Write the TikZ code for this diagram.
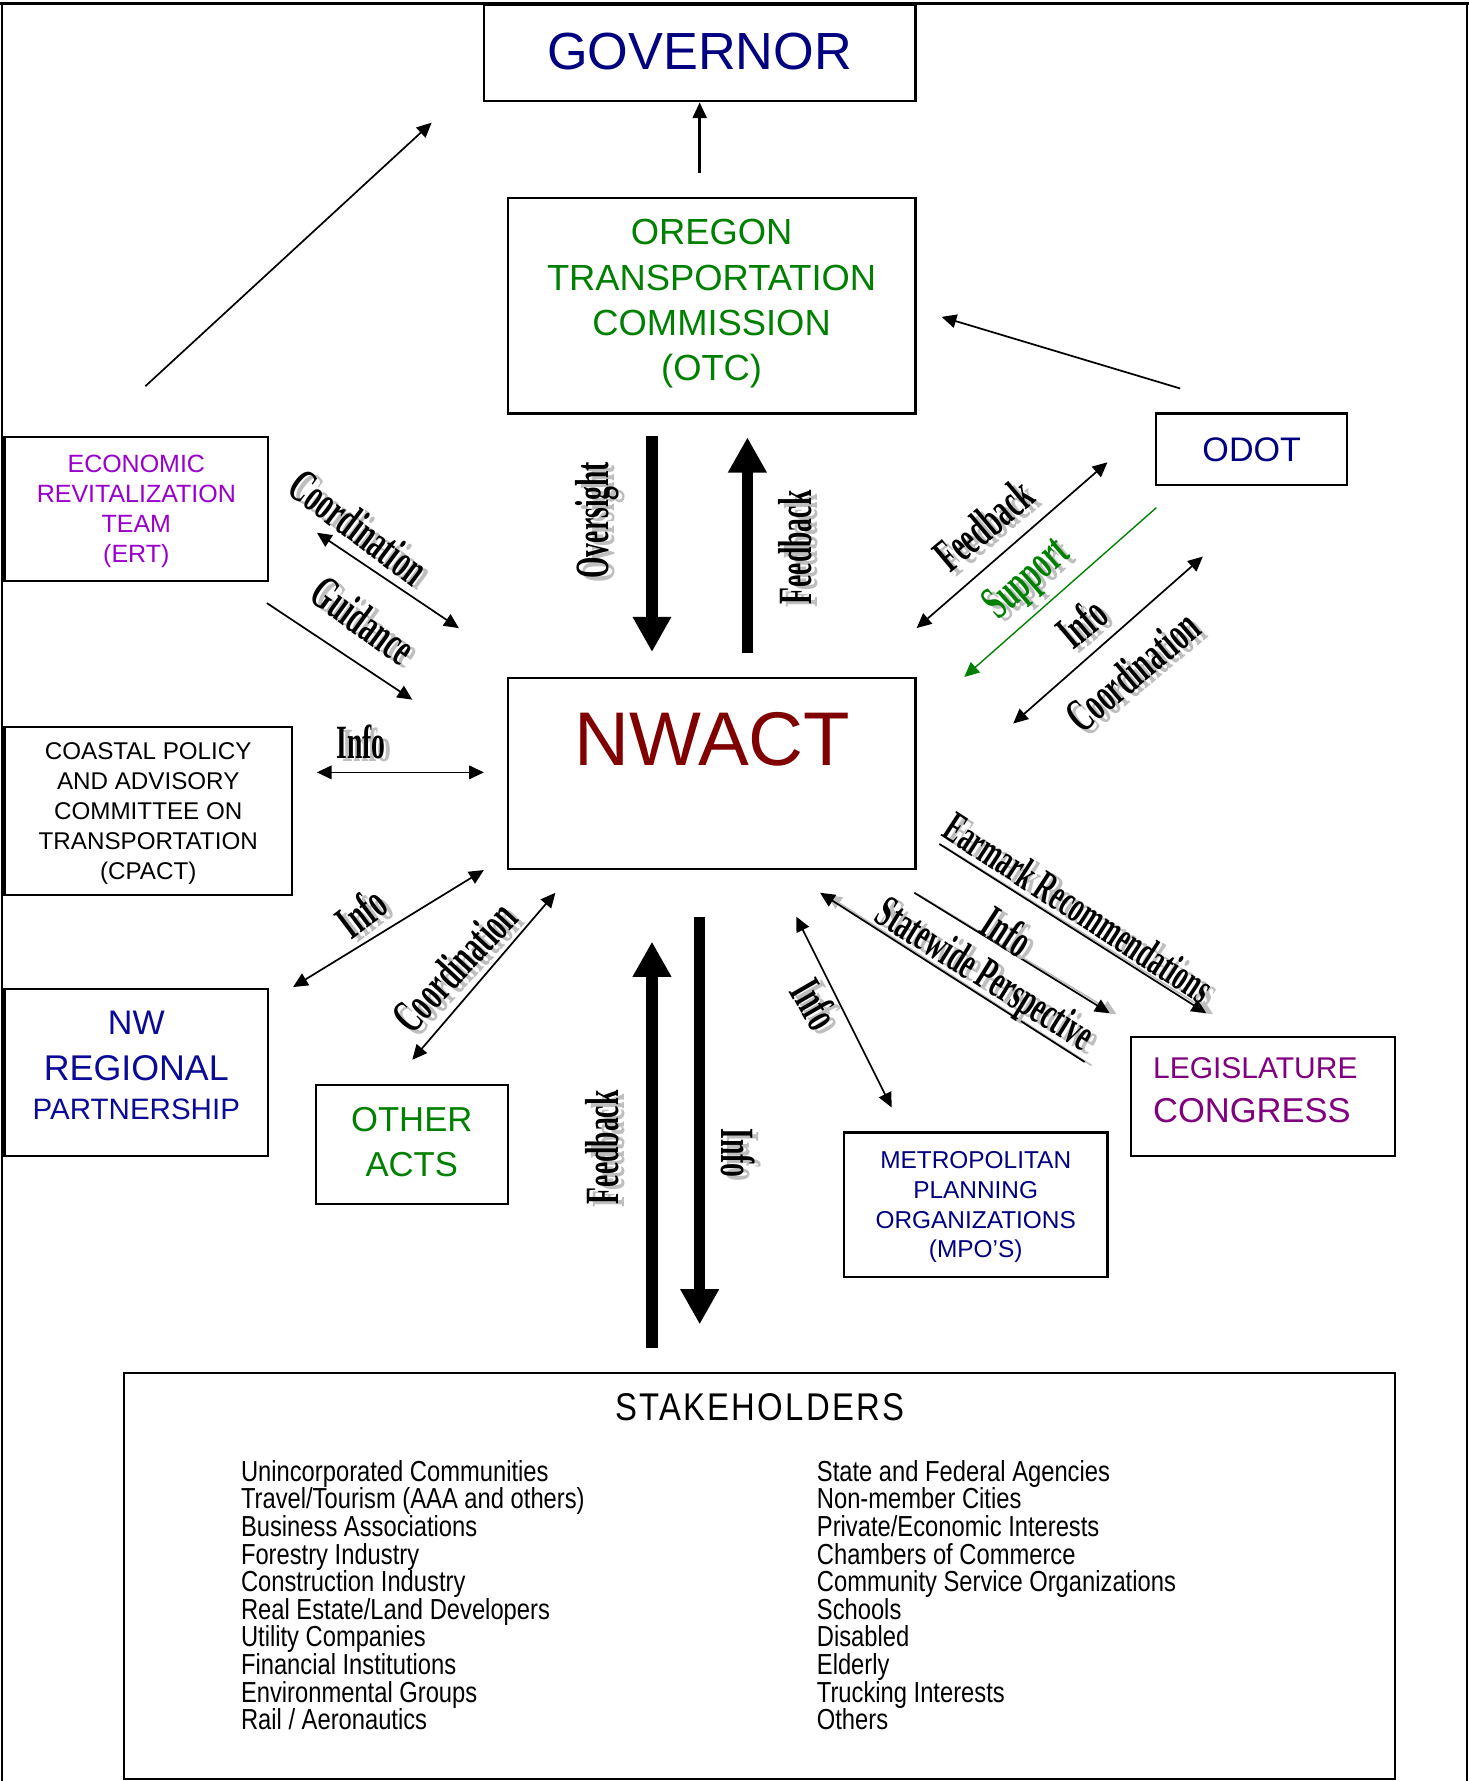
\documentclass[tikz,border=0pt]{standalone}
\usepackage{fontspec}
\setmainfont{Liberation Sans}
\newfontfamily\wafont[FakeStretch=0.58]{Liberation Serif}
\newfontfamily\narrowfont[FakeStretch=0.82]{Liberation Sans}
\newfontfamily\titlefont[FakeStretch=0.85,LetterSpace=6]{Liberation Sans}
\usetikzlibrary{arrows.meta}
\definecolor{navyc}{RGB}{0,0,128}
\definecolor{nwblue}{RGB}{10,10,150}
\definecolor{ertviolet}{RGB}{153,0,204}
\definecolor{legpurple}{RGB}{128,0,128}
\definecolor{otcgreen}{RGB}{0,128,0}
\definecolor{nwactred}{RGB}{128,0,0}
\definecolor{shadowgray}{RGB}{190,190,190}
\tikzset{
  box/.style={draw=black, line width=2pt, rectangle, inner sep=0pt, align=center, text depth=0pt},
  thinarrow/.style={line width=1.5pt, -{Triangle[length=13pt,width=12pt]}},
  dblarrow/.style={line width=1.5pt, {Triangle[length=13pt,width=12pt]}-{Triangle[length=13pt,width=12pt]}},
  fatarrow/.style={line width=10pt, -{Triangle[length=31pt,width=32pt]}},
  govarrow/.style={line width=3pt, -{Triangle[length=14pt,width=12pt]}},
  shadowline/.style={line width=1.5pt, draw=shadowgray, -{Triangle[length=13pt,width=12pt]}},
  walab/.style={inner sep=0pt, font=\wafont\bfseries\fontsize{42}{42}\selectfont},
  walabmid/.style={font=\wafont\bfseries\fontsize{40.5}{40.5}\selectfont},
  walabsmall/.style={font=\wafont\bfseries\fontsize{39}{39}\selectfont},
  item/.style={inner sep=0pt, anchor=base west, font=\narrowfont\fontsize{25.5}{25.5}\selectfont},
}
\newcommand{\walabel}[5][]{%
  \node[walab, #1, text=shadowgray, rotate=#4] (#2s) at ([shift={(5,3)}]#3) {#5};
  \node[walab, #1, rotate=#4] (#2) at (#3) {#5};
}
\begin{document}
\begin{tikzpicture}[x=1pt, y=-1pt]
\useasboundingbox (0,0) rectangle (1293,1568);
% outer frame
\coordinate (fr1) at (0,3); \coordinate (fr2) at (1293,3);
\coordinate (fl1) at (2,3); \coordinate (fl2) at (2,1568);
\coordinate (fq1) at (1291.5,3); \coordinate (fq2) at (1291.5,1568);
\draw[line width=2pt] (fr1) -- (fr2);
\draw[line width=2pt] (fl1) -- (fl2);
\draw[line width=1.5pt] (fq1) -- (fq2);

% boxes
\node[box, minimum width=380, minimum height=85] (gov) at (616,46.5) {};
\node[inner sep=0pt, text=navyc, font=\fontsize{46}{50}\selectfont] (govt) at (616,45) {GOVERNOR};
\node[box, minimum width=359, minimum height=190] (otc) at (626.5,269) {};
\node[inner sep=0pt, align=center, text depth=0pt, text=otcgreen, font=\fontsize{32}{39.7}\selectfont] (otct) at (626.5,264) {OREGON\\TRANSPORTATION\\COMMISSION\\(OTC)};
\node[box, minimum width=168, minimum height=63, text=navyc, font=\fontsize{30}{36}\selectfont] (odot) at (1102,395.5) {ODOT};
\node[box, minimum width=232, minimum height=127, text=ertviolet, font=\fontsize{22}{26.4}\selectfont] (ert) at (120,448) {ECONOMIC\\REVITALIZATION\\TEAM\\(ERT)};
\node[box, minimum width=359, minimum height=168] (nwact) at (626.5,681) {};
\node[inner sep=0pt, text=nwactred, font=\fontsize{67}{70}\selectfont] (nwactt) at (627,651) {NWACT};
\node[box, minimum width=253, minimum height=148, text=black, font=\fontsize{21.3}{26.3}\selectfont] (cpact) at (130.5,714) {COASTAL POLICY\\AND ADVISORY\\COMMITTEE ON\\TRANSPORTATION\\(CPACT)};
\node[box, minimum width=232, minimum height=147] (nw) at (120,944.5) {};
\node[inner sep=0pt, align=center, text=nwblue, font=\fontsize{30}{40.6}\selectfont] (nwt) at (120,938) {{\fontsize{30}{40.6}\selectfont NW}\\{\fontsize{31.5}{40.6}\selectfont REGIONAL}\\[-6.5pt]{\fontsize{26}{40.6}\selectfont PARTNERSHIP}};
\node[box, minimum width=169, minimum height=105] (other) at (362.5,1007.5) {};
\node[inner sep=0pt, align=center, text=otcgreen, font=\fontsize{30.5}{39}\selectfont] (othert) at (362.5,1005.5) {OTHER\\ACTS};
\node[box, minimum width=232, minimum height=127, text=navyc, font=\fontsize{21.5}{26.3}\selectfont] (mpo) at (859,1060.5) {METROPOLITAN\\PLANNING\\ORGANIZATIONS\\(MPO’S)};
\node[box, minimum width=232, minimum height=105] (leg) at (1112,965.5) {};
\node[inner sep=0pt, anchor=base west, text=legpurple, font=\fontsize{26.4}{30}\selectfont] (legt1) at (1015,949.5) {LEGISLATURE};
\node[inner sep=0pt, anchor=base west, text=legpurple, font=\fontsize{30.4}{34}\selectfont] (legt2) at (1015,988) {CONGRESS};
\node[box, minimum width=1119, minimum height=357] (stake) at (668.5,1387.5) {};
\node[inner sep=0pt, anchor=base, font=\titlefont\fontsize{34}{40}\selectfont] (stitle) at (669,1251) {STAKEHOLDERS};
\foreach \t [count=\i] in {Unincorporated Communities, Travel/Tourism (AAA and others), Business Associations, Forestry Industry, Construction Industry, Real Estate/Land Developers, Utility Companies, Financial Institutions, Environmental Groups, Rail / Aeronautics}
  \node[item] (sl\i) at (212,{1304+24.33*(\i-1)}) {\t};
\foreach \t [count=\i] in {State and Federal Agencies, Non-member Cities, Private/Economic Interests, Chambers of Commerce, Community Service Organizations, Schools, Disabled, Elderly, Trucking Interests, Others}
  \node[item] (sr\i) at (719,{1304+24.33*(\i-1)}) {\t};

% connectors: top
\coordinate (ga1) at (616,152);
\draw[govarrow] (ga1) -- (gov.south);
\coordinate (e1) at (128,340); \coordinate (e2) at (380,108);
\draw[thinarrow] (e1) -- (e2);
\coordinate (o1) at (1039,342); \coordinate (o2) at (829,279);
\draw[thinarrow] (o1) -- (o2);
\coordinate (ov1) at (574,384); \coordinate (ov2) at (574,574);
\draw[fatarrow] (ov1) -- (ov2);
\coordinate (fb1) at (658,575); \coordinate (fb2) at (658,385);
\draw[fatarrow] (fb1) -- (fb2);
% left
\coordinate (ec1) at (279,469); \coordinate (ec2) at (404,553);
\draw[dblarrow] (ec1) -- (ec2);
\coordinate (gd1) at (235,531); \coordinate (gd2) at (363,616);
\draw[thinarrow] (gd1) -- (gd2);
\coordinate (ci1) at (279,680); \coordinate (ci2) at (426,680);
\draw[dblarrow] (ci1) -- (ci2);
\coordinate (ni1) at (258,869); \coordinate (ni2) at (426,766);
\draw[dblarrow] (ni1) -- (ni2);
\coordinate (oc1) at (363,933); \coordinate (oc2) at (489,786);
\draw[dblarrow] (oc1) -- (oc2);
% right
\coordinate (rf1) at (807,553); \coordinate (rf2) at (975,407);
\draw[dblarrow] (rf1) -- (rf2);
\coordinate (sp1) at (1018,447); \coordinate (sp2) at (849,596);
\draw[thinarrow, draw=otcgreen, fill=otcgreen, line width=1.2pt] (sp1) -- (sp2);
\coordinate (rc1) at (892,637); \coordinate (rc2) at (1059,490);
\draw[dblarrow] (rc1) -- (rc2);
% lower right
\coordinate (em1) at (827,743); \coordinate (em2) at (1062,892);
\coordinate (em1s) at (831,745); \coordinate (em2s) at (1068,893);
\draw[shadowline] (em1s) -- (em2s);
\draw[thinarrow] (em1) -- (em2);
\coordinate (li1) at (805,786); \coordinate (li2) at (977,892);
\coordinate (li1s) at (809,788); \coordinate (li2s) at (983,893);
\draw[shadowline] (li1s) -- (li2s);
\draw[thinarrow] (li1) -- (li2);
\coordinate (sw1) at (955,935); \coordinate (sw2) at (722,786);
\coordinate (sw1s) at (961,938); \coordinate (sw2s) at (728,788);
\draw[shadowline] (sw1s) -- (sw2s);
\draw[thinarrow] (sw1) -- (sw2);
\coordinate (mi1) at (701,807); \coordinate (mi2) at (785,975);
\draw[dblarrow] (mi1) -- (mi2);
% bottom fat arrows
\coordinate (lf1) at (574,1187); \coordinate (lf2) at (574,829);
\draw[fatarrow] (lf1) -- (lf2);
\coordinate (lo1) at (616,807); \coordinate (lo2) at (616,1166);
\draw[fatarrow] (lo1) -- (lo2);

% labels
\walabel{l1}{316,464}{-37}{Coordination}
\walabel{l2}{320,546}{-36}{Guidance}
\walabel{l3}{318,653}{0}{Info}
\walabel{l4}{526,458}{90}{Oversight}
\walabel{l5}{700,482}{90}{Feedback}
\walabel{l6}{866,462}{40}{Feedback}
\walabel[text=otcgreen]{l7}{905,511}{41}{Support}
\walabel{l8}{952,548}{40}{Info}
\walabel{l9}{997,591}{40}{Coordination}
\walabel{l10}{318,803}{37}{Info}
\walabel{l11}{400,851}{47}{Coordination}
\walabel{l12}{530,1010}{90}{Feedback}
\walabel{l13}{650,1015}{-90}{Info}
\walabel[walabsmall]{l14}{950,799}{-33}{Earmark Recommendations}
\walabel{l15}{887,820}{-33}{Info}
\walabel[walabmid]{l16}{866,860}{-32}{Statewide Perspective}
\walabel{l17}{718,884}{-60}{Info}
\end{tikzpicture}
\end{document}
